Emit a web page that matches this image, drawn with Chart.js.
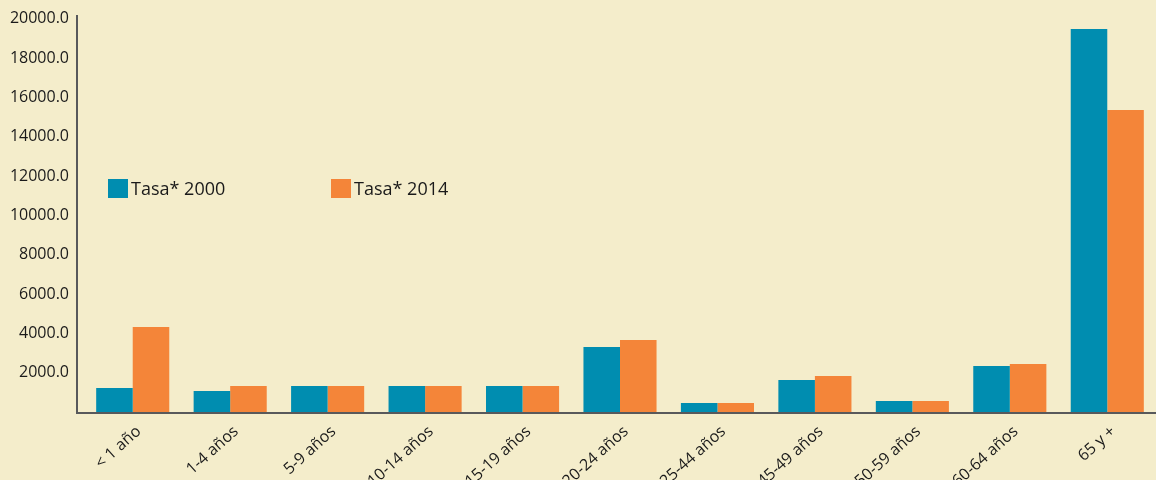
<!DOCTYPE html>
<html>
<head>
<meta charset="utf-8">
<script src="https://cdn.jsdelivr.net/npm/chart.js@4"></script>
<style>
  html, body { margin: 0; padding: 0; background: #f4edcb; }
  #wrap { position: relative; width: 1156px; height: 480px; }
  .leg { position: absolute; top: 176px; font-family: "Open Sans", sans-serif; font-size: 18px; color: #1a1a1a; display: flex; align-items: center; }
  .leg span { display: inline-block; width: 20px; height: 19px; margin-right: 3px; }
</style>
</head>
<body>
<div id="wrap">
  <canvas id="chart" width="1156" height="480"></canvas>
  <div class="leg" style="left:108px"><span style="background:#008db0"></span>Tasa* 2000</div>
  <div class="leg" style="left:331px"><span style="background:#f48539"></span>Tasa* 2014</div>
</div>
<script>
// age groups + rates
const ageGroups = ['< 1 año', '1-4 años', '5-9 años', '10-14 años', '15-19 años', '20-24 años',
  '25-44 años', '45-49 años', '50-59 años', '60-64 años', '65 y +']
const rate2000 = [1220, 1070, 1320, 1320, 1320, 3310, 460, 1630, 560, 2340, 19490]
const rate2014 = [4330, 1320, 1320, 1320, 1320, 3660, 460, 1830, 560, 2440, 15370]
const yTicks = [2000, 4000, 6000, 8000, 10000, 12000, 14000, 16000, 18000, 20000]

// axis lines: vertical one sits a bit left of the plot area
const axisLines = {
  id: 'axisLines',
  afterDraw(chart) {
    const { ctx, chartArea } = chart
    ctx.save()
    ctx.strokeStyle = '#58595b'
    ctx.lineWidth = 2
    ctx.beginPath()
    ctx.moveTo(77, chartArea.top)
    ctx.lineTo(77, chartArea.bottom + 1)
    ctx.lineTo(1156, chartArea.bottom + 1)
    ctx.stroke()
    ctx.restore()
  }
}

new Chart(document.getElementById('chart'), {
  type: 'bar',
  data: {
    labels: ageGroups,
    datasets: [{
      label: 'Tasa* 2000',
      data: rate2000,
      backgroundColor: '#008db0'
    }, {
      label: 'Tasa* 2014',
      data: rate2014,
      backgroundColor: '#f48539'
    }]
  },
  options: {
    responsive: false,
    animation: false,
    layout: { padding: { top: 15, right: 0, left: 0, bottom: 0 } },
    datasets: { bar: { categoryPercentage: 0.75, barPercentage: 1.0 } },
    plugins: { legend: { display: false }, tooltip: { enabled: false } },
    scales: {
      x: {
        grid: { display: false },
        border: { display: false },
        afterFit: s => { s.height = 68 },
        ticks: {
          color: '#1a1a1a',
          font: { family: 'Open Sans', size: 16 },
          maxRotation: 42, minRotation: 42,
          labelOffset: 6,
          padding: 2,
          autoSkip: false
        }
      },
      y: {
        min: 0,
        max: 20200,
        grid: { display: false },
        border: { display: false },
        afterFit: s => { s.width = 84 },
        afterBuildTicks: s => { s.ticks = yTicks.map(v => ({ value: v })) },
        ticks: {
          color: '#1a1a1a',
          font: { family: 'Open Sans', size: 16, lineHeight: 0.5 },
          padding: 7,
          callback: v => v.toFixed(1)
        }
      }
    }
  },
  plugins: [axisLines]
})
</script>
</body>
</html>
